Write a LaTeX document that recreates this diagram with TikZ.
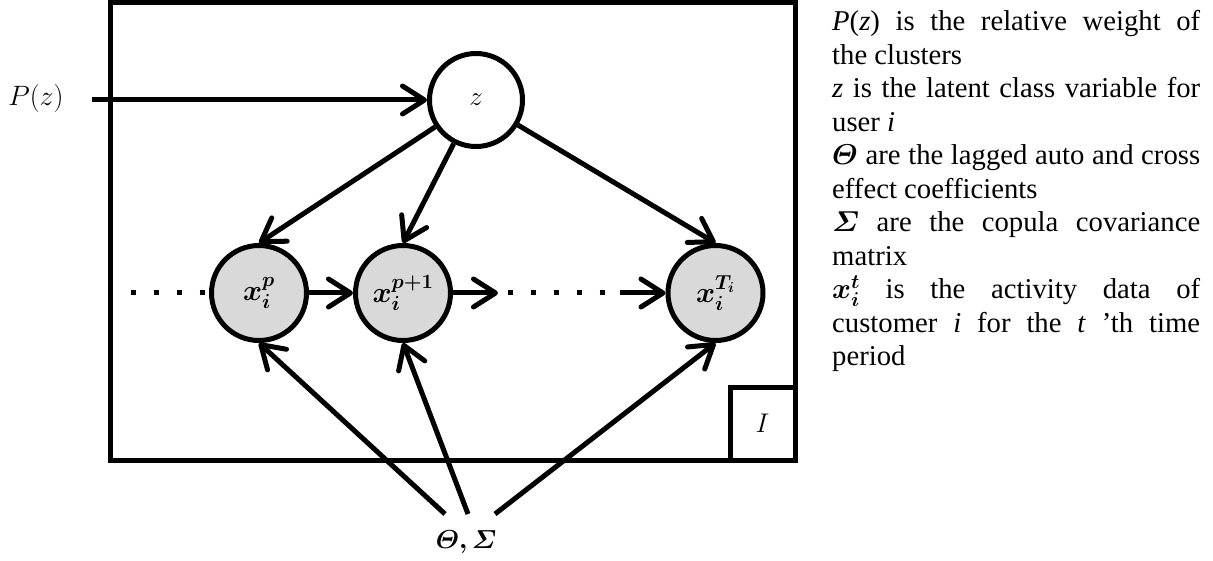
\RequirePackage{fix-cm}
\documentclass[tikz,border=0pt]{standalone}
\usepackage{fontspec}
\usepackage{amsmath}
\usepackage{bm}
\newfontfamily\notefont{Liberation Serif}
\usetikzlibrary{arrows.meta,backgrounds}
\hbadness=10000
\newcommand{\iv}[1]{\textit{#1}}
\begin{document}
\begin{tikzpicture}[x=1pt,y=-1pt,
  every node/.style={inner sep=0pt},
  ln/.style={line width=5pt},
  arr/.style={ln,-{Straight Barb[length=22pt,width=28pt,line width=5pt,round]}},
  var/.style={circle,draw,line width=5pt,minimum size=95pt,fill=black!15,
    font=\fontsize{29}{32}\selectfont},
  lat/.style={var,fill=white,minimum size=93pt},
  dotline/.style={line width=5pt,dash pattern=on 5pt off 18pt},
  lbl/.style={font=\fontsize{27}{30}\selectfont},
]
\useasboundingbox (0,0) rectangle (1213,561);

% plate and its index box
\node[draw,ln,minimum width=685pt,minimum height=457pt] (plate) at (452.5,231.5) {};
\node[draw,ln,lbl,minimum width=65pt,minimum height=73pt,anchor=south east]
  (idx) at (plate.south east) {$I$};

% random variables
\node[lat,font=\fontsize{27}{30}\selectfont] (z) at (476,100) {$z$};
\node[var] (xp) at (259,293) {$\bm{x_i^p}$};
\node[var] (xq) at (403,293) {$\bm{x_i^{p+1}}$};
\node[var] (xT) at (715.5,293) {$\bm{x_i^{T_i}}$};

% parameters
\node[font=\fontsize{28}{32}\selectfont] (pz) at (36,99) {$P(z)$};
\node[font=\fontsize{26}{30}\selectfont] (ts) at (466,542) {$\bm{\varTheta,\varSigma}$};

\coordinate (pzs) at (92,100);
\coordinate (t1) at (445,514);
\coordinate (t2) at (468,514);
\coordinate (t3) at (495,514);
\coordinate (l1) at (107.5,293);
\coordinate (m1) at (498,293);
\coordinate (m2) at (507.5,293);
\coordinate (m3) at (604.5,293);
\coordinate (m4) at (620,293);

% leading dots behind the first state
\begin{pgfonlayer}{background}
  \draw[dotline] (l1) -- (xp.center);
\end{pgfonlayer}

% edges
\draw[arr] (pzs) -- (z);
\draw[arr] (z) -- (xp.north);
\draw[arr] (z) -- (xq.north);
\draw[arr] (z) -- (xT.north);
\draw[arr] (xp) -- (xq);
\draw[arr] (xq) -- (m1);
\draw[dotline] (m2) -- (m3);
\draw[arr] (m4) -- (xT);
\draw[arr] (t1) -- (xp.south);
\draw[arr] (t2) -- (xq.south);
\draw[arr] (t3) -- (xT.south);

% legend
\node[anchor=base west,text width=368pt,align=justify,
  font=\notefont\fontsize{28.7}{33.5}\selectfont] (notes) at (832,31) {%
  \fontsize{28.7}{33.5}\selectfont
  \iv{P}(\iv{z}) is the relative weight of\linebreak the clusters\par
  \iv{z} is the latent class variable for\linebreak user \iv{i}\par
  $\bm{\varTheta}$ are the lagged auto and cross\linebreak effect coefficients\par
  $\bm{\varSigma}$ are the copula covariance\linebreak matrix\par
  $\bm{x_i^t}$ is the activity data of\linebreak customer \iv{i} for the \iv{t} ’th time\linebreak period\par};
\end{tikzpicture}
\end{document}
